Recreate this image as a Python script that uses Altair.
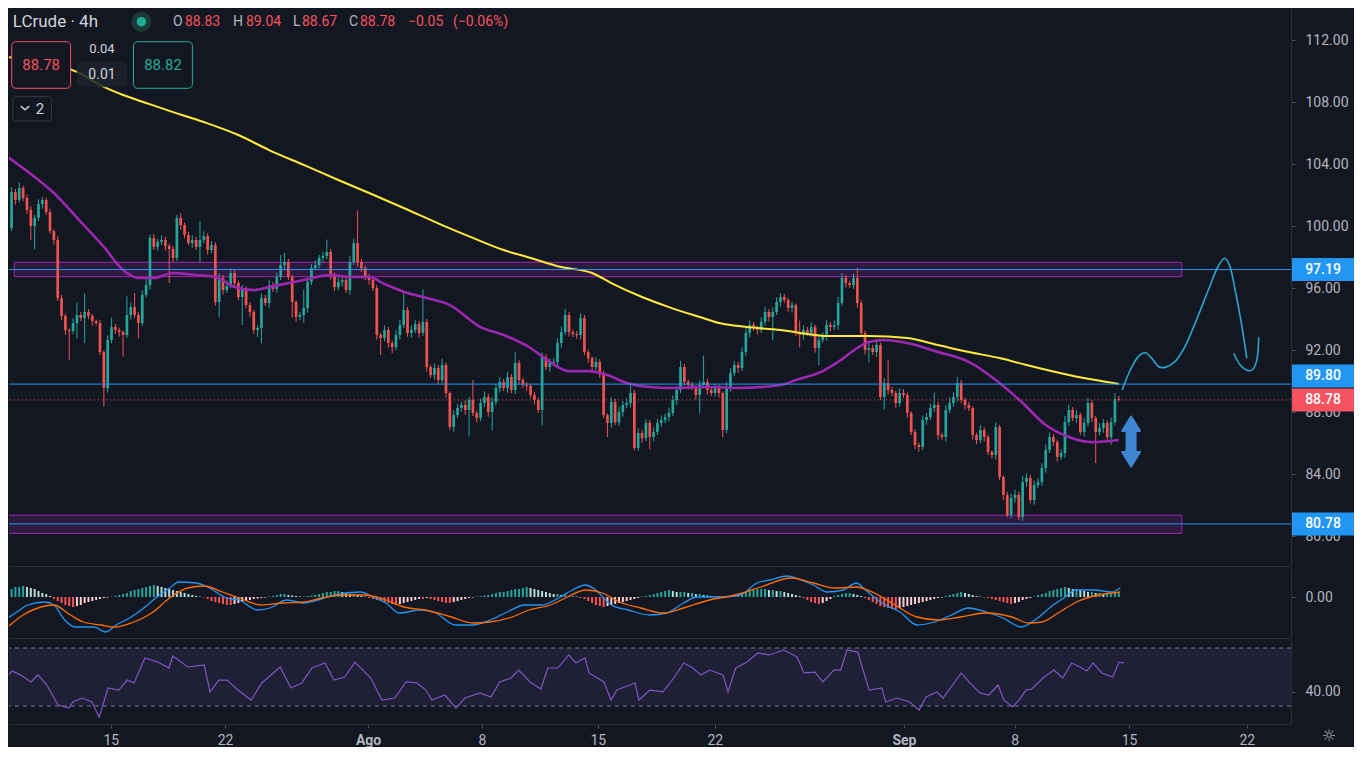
import altair as alt
import pandas as pd

BG = "#131722"
UP = "#26a69a"
DN = "#ef5350"
FONT = "Roboto"

# ---------------- candle data (4h bars, index = bar number) ----------------
OPEN0 = 100.71
CLOSE = [
    99.87, 102.19, 101.68, 102.45, 101.81, 101.03, 100.00, 100.52, 101.42, 101.68,
    100.90, 99.68, 99.10, 95.36, 94.19, 93.29, 93.23, 93.74, 94.26, 94.06,
    94.45, 94.19, 93.87, 93.74, 91.87, 89.55, 92.65, 93.48, 93.29, 93.16,
    92.97, 94.26, 94.77, 94.26, 93.74, 95.55, 96.19, 99.23, 98.65, 98.97,
    99.10, 98.71, 98.52, 97.94, 100.52, 100.06, 99.42, 98.90, 99.10, 98.65,
    99.10, 99.35, 98.45, 98.77, 95.10, 96.65, 95.87, 96.13, 96.97, 96.32,
    95.42, 96.00, 94.90, 94.45, 93.29, 93.42, 95.36, 95.03, 96.19, 95.94,
    96.71, 97.48, 97.68, 96.71, 95.10, 94.13, 94.26, 94.71, 96.39, 97.29,
    97.48, 97.94, 98.06, 98.32, 96.84, 96.06, 96.39, 96.52, 95.87, 97.68,
    98.90, 97.68, 97.29, 96.71, 96.52, 96.00, 92.97, 92.77, 93.29, 92.45,
    92.19, 92.97, 93.61, 94.58, 93.10, 93.29, 93.68, 93.10, 93.81, 90.90,
    90.39, 90.84, 90.06, 91.03, 89.23, 87.03, 87.81, 88.26, 88.45, 88.13,
    88.77, 87.94, 87.61, 88.58, 88.97, 88.00, 88.65, 89.55, 89.94, 89.55,
    90.26, 89.42, 91.16, 90.06, 89.74, 89.68, 89.10, 88.77, 88.13, 91.55,
    90.90, 91.16, 91.23, 92.45, 93.16, 94.26, 93.16, 93.03, 92.97, 94.06,
    91.87, 91.48, 90.90, 91.23, 90.52, 87.81, 87.29, 88.65, 87.35, 88.00,
    88.45, 88.58, 89.23, 85.68, 86.65, 86.32, 87.29, 86.39, 86.71, 87.29,
    87.48, 87.68, 87.94, 88.77, 89.42, 90.90, 89.94, 89.74, 89.61, 89.10,
    89.74, 89.94, 89.42, 89.23, 89.55, 89.23, 86.84, 89.61, 90.52, 91.03,
    90.84, 91.87, 93.10, 93.61, 93.42, 93.29, 93.81, 94.45, 94.13, 94.45,
    95.10, 95.42, 95.23, 94.71, 94.90, 93.10, 92.97, 93.29, 93.10, 93.48,
    92.13, 92.65, 92.90, 93.61, 93.48, 93.61, 95.03, 96.65, 96.32, 96.19,
    96.65, 95.03, 93.10, 92.00, 92.13, 91.87, 92.32, 88.97, 89.87, 89.42,
    89.23, 88.58, 89.23, 89.10, 87.94, 86.71, 85.87, 85.74, 87.48, 87.68,
    88.26, 88.45, 86.52, 86.39, 88.13, 88.58, 88.97, 89.87, 88.77, 88.45,
    88.26, 86.52, 86.19, 86.84, 86.39, 85.42, 85.23, 87.03, 83.81, 82.65,
    81.35, 82.45, 82.65, 81.23, 83.48, 83.74, 82.32, 83.29, 83.48, 84.39,
    85.55, 86.39, 86.06, 85.10, 85.35, 87.35, 88.13, 87.61, 87.81, 86.71,
    87.29, 88.58, 87.61, 86.71, 86.97, 87.29, 86.39, 87.35, 88.83, 88.78,
]
WICK_UP = [
    0.64, 0.3, 0.2, 0.35, 0.15, 0.2, 0.25, 0.2, 0.3, 0.2,
    0.15, 0.2, 0.1, 0.25, 0.2, 0.15, 0.1, 0.3, 0.8, 0.2,
    1.2, 0.2, 0.15, 0.1, 0.2, 0.1, 0.3, 0.6, 0.2, 0.15,
    0.1, 1.2, 0.3, 0.9, 0.2, 0.3, 0.4, 0.2, 0.25, 0.2,
    0.3, 0.2, 0.15, 0.2, 0.2, 0.3, 0.15, 0.2, 0.3, 0.2,
    1.2, 0.3, 0.2, 0.25, 0.2, 0.3, 0.2, 0.35, 0.3, 0.2,
    0.15, 0.2, 0.1, 0.2, 0.15, 0.2, 0.3, 0.2, 0.35, 0.2,
    0.3, 0.65, 0.6, 0.2, 0.15, 0.1, 0.2, 1.2, 0.3, 0.25,
    0.3, 0.2, 0.3, 0.8, 0.2, 0.15, 0.3, 0.25, 0.2, 0.4,
    0.3, 2.1, 0.2, 0.15, 0.2, 0.1, 0.2, 0.15, 0.3, 0.2,
    0.15, 0.3, 0.35, 1.1, 0.2, 0.3, 0.25, 0.2, 2.1, 0.2,
    0.15, 0.3, 0.2, 0.4, 0.15, 0.1, 0.3, 0.25, 0.2, 0.3,
    0.2, 1.3, 0.15, 0.3, 0.35, 0.2, 0.3, 0.25, 0.3, 0.2,
    0.35, 0.2, 0.7, 0.2, 0.15, 0.2, 0.1, 0.2, 0.15, 0.3,
    0.2, 0.3, 0.25, 0.3, 0.35, 0.4, 0.2, 0.15, 0.2, 0.3,
    0.2, 0.15, 0.1, 0.3, 0.2, 0.15, 0.1, 0.3, 0.2, 0.35,
    0.25, 0.3, 0.5, 0.2, 0.3, 0.2, 0.25, 0.2, 0.3, 0.25,
    0.3, 0.2, 0.35, 0.3, 0.25, 0.4, 0.2, 0.15, 0.2, 0.1,
    0.3, 1.7, 0.2, 0.15, 0.3, 0.2, 0.1, 0.35, 0.3, 0.25,
    0.2, 0.3, 0.35, 0.3, 0.2, 0.15, 0.3, 0.35, 0.2, 0.3,
    0.3, 0.25, 0.2, 0.15, 0.2, 0.1, 0.8, 0.3, 0.2, 0.3,
    0.15, 0.3, 0.25, 0.35, 0.2, 0.3, 0.4, 0.3, 0.2, 0.15,
    0.3, 0.65, 0.2, 0.15, 0.3, 0.2, 0.3, 0.15, 0.3, 1.5,
    0.2, 0.15, 0.3, 0.25, 0.15, 0.1, 0.2, 0.15, 0.3, 0.25,
    0.3, 0.8, 0.2, 0.15, 0.3, 0.35, 0.3, 0.4, 0.2, 0.15,
    0.2, 0.1, 0.15, 0.3, 0.2, 0.15, 0.1, 0.3, 0.15, 0.1,
    0.2, 0.3, 0.35, 0.2, 0.4, 0.3, 0.2, 0.3, 0.25, 0.3,
    0.35, 0.3, 0.2, 0.15, 0.25, 0.4, 0.35, 0.2, 0.3, 0.15,
    0.3, 0.35, 0.2, 0.15, 0.3, 0.25, 0.2, 0.3, 0.4, 0.21,
]
WICK_DN = [
    0.77, 0.2, 0.3, 0.15, 0.2, 0.25, 0.9, 1.5, 0.2, 0.3,
    0.2, 0.15, 0.3, 0.2, 0.25, 0.3, 1.9, 0.2, 1.0, 0.2,
    1.6, 0.2, 0.3, 0.15, 0.2, 1.2, 0.3, 0.2, 0.25, 0.3,
    1.4, 0.2, 0.3, 0.2, 1.0, 0.2, 0.15, 0.3, 0.2, 0.25,
    0.2, 0.3, 2.2, 0.25, 0.2, 0.3, 0.2, 0.15, 0.3, 0.2,
    1.0, 0.2, 0.3, 0.2, 0.25, 1.0, 0.3, 0.2, 0.15, 0.3,
    0.2, 1.8, 0.2, 0.3, 0.25, 0.45, 1.0, 0.2, 0.3, 0.2,
    0.25, 0.2, 0.3, 0.2, 1.0, 0.3, 0.2, 0.5, 0.3, 0.2,
    0.15, 0.2, 0.3, 0.2, 0.3, 0.25, 0.2, 0.3, 0.2, 0.3,
    0.2, 0.3, 0.25, 0.2, 0.3, 0.2, 0.3, 1.1, 0.2, 0.3,
    0.4, 0.2, 0.3, 0.2, 0.25, 0.3, 0.2, 0.3, 0.2, 0.3,
    0.2, 0.3, 0.25, 0.2, 0.3, 0.2, 0.3, 0.2, 0.25, 0.3,
    1.7, 0.2, 0.3, 0.2, 0.25, 0.3, 1.2, 0.2, 0.3, 0.2,
    0.3, 0.2, 0.25, 0.3, 0.2, 0.3, 0.2, 0.3, 0.2, 1.0,
    0.2, 0.3, 0.2, 0.25, 0.3, 0.2, 0.3, 0.2, 0.25, 0.3,
    0.2, 0.3, 0.25, 0.2, 0.3, 0.2, 0.9, 0.3, 0.2, 0.25,
    0.3, 0.2, 0.3, 0.15, 0.2, 0.3, 0.2, 0.8, 0.3, 0.2,
    0.25, 0.2, 0.3, 0.2, 0.3, 0.2, 0.25, 0.3, 0.2, 0.3,
    1.2, 0.2, 0.3, 0.2, 0.25, 0.3, 0.5, 0.2, 0.3, 0.2,
    0.3, 0.2, 0.25, 0.3, 0.2, 0.3, 0.2, 0.25, 0.3, 1.5,
    0.2, 0.3, 0.2, 0.25, 0.3, 0.2, 0.8, 0.3, 0.2, 0.25,
    0.3, 1.1, 0.2, 0.3, 0.25, 0.2, 0.3, 0.2, 0.3, 0.2,
    0.25, 0.3, 0.2, 0.3, 0.8, 0.2, 0.3, 0.2, 0.8, 0.3,
    0.2, 0.3, 0.25, 0.2, 0.3, 0.2, 0.25, 0.3, 0.2, 0.3,
    0.2, 0.25, 0.3, 0.2, 0.3, 0.2, 0.25, 0.3, 0.2, 0.3,
    0.2, 0.3, 0.25, 0.2, 0.3, 0.2, 0.25, 0.3, 0.2, 0.3,
    0.15, 0.2, 0.3, 0.2, 0.25, 0.3, 0.2, 0.3, 0.2, 0.25,
    0.3, 0.2, 0.25, 0.3, 0.2, 0.3, 0.25, 0.2, 0.3, 0.2,
    0.3, 0.2, 0.25, 2.0, 0.2, 0.3, 0.25, 0.5, 0.2, 0.11,
]

# moving averages (bar index, price)
MA50_IDX = [0, 7, 12, 19, 25, 30, 34, 38, 43, 49, 54, 59, 64, 68, 77, 84, 89, 94, 98, 104,
            109, 115, 123, 129, 136, 141, 146, 151, 156, 161, 167, 173, 182, 190, 201, 205,
            212, 216, 221, 224, 228, 234, 242, 250, 257, 264, 270, 276, 282, 289]
MA50_VAL = [104.45, 103.16, 102.13, 100.26, 98.65, 97.16, 96.65, 96.65, 96.97, 96.84,
            96.71, 96.06, 95.87, 96.06, 96.52, 96.84, 96.71, 96.71, 96.26, 95.68,
            95.36, 94.90, 93.48, 92.97, 92.13, 91.23, 90.64, 90.64, 90.39, 89.87,
            89.61, 89.55, 89.61, 89.55, 89.74, 90.06, 90.64, 91.23, 92.13, 92.52,
            92.65, 92.45, 91.87, 91.23, 90.06, 88.58, 87.16, 86.39, 86.06, 86.19]
MA200_IDX = [0, 18, 25, 30, 36, 43, 51, 60, 68, 77, 86, 94, 103, 113, 121, 129, 136, 144,
             152, 157, 165, 172, 180, 185, 190, 201, 214, 224, 234, 242, 250, 258, 265,
             276, 283, 289]
MA200_VAL = [110.90, 109.94, 108.97, 108.45, 107.94, 107.35, 106.71, 105.87, 104.90,
             103.94, 102.97, 102.13, 101.16, 100.06, 99.23, 98.45, 97.94, 97.35, 96.97,
             96.32, 95.42, 94.77, 94.13, 93.74, 93.55, 93.29, 92.90, 92.90, 92.77, 92.32,
             91.87, 91.48, 91.03, 90.39, 90.06, 89.81]

# MACD panel
MACD_HIST = [
    0.6, 0.8, 1.0, 1.0, 1.1, 1.0, 0.9, 0.8, 0.6, 0.4,
    0.3, 0.1,
    -0.2, -0.4, -0.6, -0.8, -0.9, -1.0, -0.9, -0.8, -0.6, -0.5, -0.4, -0.3, -0.2, -0.1,
    -0.1, 0.05, 0.1,
    0.2, 0.3, 0.4, 0.6, 0.7, 0.8, 0.9, 1.0, 1.1, 1.2,
    1.1, 1.0, 0.9, 0.8, 0.7, 0.6, 0.5, 0.4, 0.3,
    0.2, 0.1, 0.05, -0.05,
    -0.2, -0.4, -0.5, -0.6, -0.7, -0.8, -0.8, -0.7, -0.6, -0.5, -0.4, -0.3, -0.2,
    -0.15, -0.1, -0.05, 0.05, 0.1,
    0.2, 0.3, 0.3, 0.2, 0.15,
    0.1, 0.05, 0.05, 0.1, 0.15, 0.2, 0.3, 0.4,
    0.5, 0.5, 0.6, 0.6, 0.5, 0.4, 0.3, 0.3, 0.2, 0.1,
    0.05, -0.1, -0.2, -0.3, -0.4,
    -0.5, -0.6, -0.7, -0.8, -0.7, -0.6, -0.5, -0.4,
    -0.3, -0.2, -0.2, -0.1, -0.2, -0.3, -0.4, -0.5,
    -0.6, -0.6, -0.5, -0.4, -0.3, -0.2, -0.1,
    -0.05, 0.05, 0.1, 0.15, 0.2, 0.3, 0.4, 0.5,
    0.5, 0.6, 0.7, 0.8, 0.8, 0.9, 1.0, 0.9, 0.8, 0.7, 0.6, 0.5, 0.4,
    0.3, 0.3, 0.2, 0.2, 0.1, 0.1, 0.05, -0.1,
    -0.2, -0.4, -0.6, -0.8, -0.9, -1.0, -0.9, -0.8, -0.7, -0.6, -0.5, -0.4, -0.3, -0.2, -0.1,
    0.05, 0.1, 0.2, 0.3, 0.4, 0.5, 0.6, 0.7, 0.6, 0.5, 0.5,
    0.5, 0.4, 0.4, 0.3, 0.3, 0.2, 0.2, 0.1, 0.1, 0.05, 0.05, 0.05,
    0.1, 0.2, 0.3, 0.4, 0.5, 0.6, 0.7, 0.8, 0.8,
    0.8, 0.7, 0.7, 0.6, 0.6, 0.5, 0.4, 0.3, 0.2, 0.1,
    -0.1, -0.3, -0.5, -0.6, -0.7, -0.6, -0.4, -0.2,
    0.1, 0.2, 0.3, 0.4, 0.4, 0.3, 0.2, 0.1,
    -0.1, -0.3, -0.5, -0.7, -0.9,
    -1.0, -1.1, -1.2, -1.2, -1.1, -1.0, -0.9, -0.8, -0.7, -0.6, -0.5, -0.4, -0.3, -0.2,
    -0.1, -0.05,
    0.1, 0.2, 0.3, 0.4, 0.5, 0.4, 0.3, 0.2,
    0.1, 0.05, -0.05, -0.1,
    -0.2, -0.3, -0.4, -0.5, -0.6, -0.7, -0.6, -0.5, -0.3, -0.2,
    -0.1, 0.05,
    0.2, 0.3, 0.4, 0.6, 0.7, 0.8, 0.9, 1.0,
    0.9, 0.8, 0.8, 0.7, 0.6, 0.5, 0.5, 0.4, 0.4, 0.3, 0.3,
    0.3, 0.4, 0.4,
]
MACD_IDX = [0, 2.4, 5.2, 9.6, 12, 14.8, 17.6, 22.5, 25.4, 28.2, 32.1, 35.4, 38.8, 42.1, 44.5,
            49.1, 52.5, 56.9, 60.2, 64.9, 68.2, 72.6, 77, 80.6, 85, 91.7, 95, 98.4, 101.8,
            107.4, 110.8, 116.5, 120.9, 125.5, 129.9, 134.5, 138.9, 143.3, 146.9, 150.3,
            152.3, 157, 161.4, 167, 171.4, 175.8, 179.2, 185.9, 190.5, 194.9, 198.3, 202.9,
            206.3, 209.6, 213, 217.4, 220.7, 223.1, 227.4, 232.1, 236.5, 241.1, 245.5,
            249.9, 254.5, 258.9, 263.6, 267.9, 271.3, 274.7, 278, 282.7, 287, 289.4]
MACD_VAL = [-2.1, -1.5, -0.8, -0.5, -0.8, -2.3, -3.0, -3.0, -3.5, -2.8, -2.0, -1.1, 0, 0.9,
            1.5, 1.4, 0.9, -0.1, -0.3, -1.3, -1.1, -0.3, -0.6, -0.3, 0.2, 0.5, 0, -0.6,
            -1.6, -1.3, -1.5, -2.8, -2.8, -2.3, -1.5, -0.8, -0.8, -0.1, 0.7, 1.2, 0.9,
            -0.8, -1.3, -1.8, -1.6, -0.6, 0, 0, 0.2, 1.4, 1.7, 2.1, 1.7, 1.2, 0.5, 0.7,
            1.4, 0.7, -0.6, -1.5, -2.8, -2.5, -1.8, -1.1, -1.5, -2.1, -3.0, -2.1, -1.0,
            -0.1, 0.7, 0.7, 0.5, 0.9]
SIG_IDX = [0, 4, 8.6, 12, 16.3, 19.7, 24.3, 27.7, 32.1, 37.8, 42.1, 46.8, 51.2, 55.8, 60.2,
           65.9, 71.6, 77, 81.6, 87.3, 92.7, 98.4, 103.1, 108.5, 115.4, 120.9, 125.5, 131.2,
           135.6, 141.2, 145.6, 150.3, 154.7, 159.1, 164.7, 170.4, 175.8, 182.5, 189.2,
           195.9, 203.9, 209.6, 215, 220.7, 225.4, 230.8, 236.5, 242.2, 247.8, 254.5,
           261.2, 265.6, 269, 273.6, 278, 283.7, 289.4]
SIG_VAL = [-3.0, -1.8, -1.0, -0.8, -1.8, -2.5, -2.8, -3.0, -2.6, -1.5, -0.1, 0.9, 1.1, 0.5,
           -0.1, -0.8, -0.6, -0.5, -0.1, 0.2, 0.2, -0.3, -1.0, -1.3, -2.0, -2.6, -2.5, -2.0,
           -1.3, -0.8, 0, 0.7, 0.4, -0.5, -1.1, -1.6, -1.1, -0.3, 0.2, 1.0, 1.9, 1.4, 0.9,
           1.0, 0.4, -0.8, -2.0, -2.3, -2.0, -1.6, -2.0, -2.6, -2.5, -1.5, -0.5, 0.2, 0.5]

# RSI panel
RSI_IDX = [0, 2.4, 4.7, 7.3, 9.1, 11.4, 14.3, 17.1, 18.1, 20.5,
           23.0, 24.9, 27.2, 30.0, 32.1, 33.9, 36.7, 40.1, 42.9, 43.9,
           47.8, 52.0, 53.5, 55.8, 57.9, 60.7, 64.1, 66.9, 71.6, 74.4,
           77.2, 79.8, 83.2, 85.5, 88.3, 90.9, 95.0, 97.9, 101.2, 104.1,
           106.9, 109.2, 110.8, 114.1, 117.0, 119.3, 123.2, 126.0, 128.3, 131.2,
           133.2, 136.1, 138.9, 140.7, 143.3, 146.1, 147.9, 150.3, 151.3, 155.2,
           157.0, 158.5, 163.2, 164.2, 167.0, 170.4, 173.2, 175.8, 178.1, 180.2,
           182.5, 185.9, 187.2, 189.2, 192.1, 194.9, 197.8, 201.6, 205.0, 206.8,
           209.6, 211.7, 214.5, 216.3, 217.9, 220.7, 223.6, 226.9, 227.9, 230.8,
           234.1, 236.5, 238.3, 241.1, 242.7, 247.4, 249.4, 252.2, 254.5, 256.9,
           258.4, 260.7, 262.3, 264.1, 265.6, 268.5, 271.3, 273.6, 275.9, 278.0,
           279.8, 281.4, 283.7, 286.5, 288.1, 289.4]
RSI_VAL = [46.6, 54.1, 51.4, 46.6, 51.4, 44.5, 30.7, 28.6, 32.8, 35.5,
           32.8, 22.4, 42.4, 41.0, 47.9, 45.9, 63.1, 60.3, 56.2, 64.5,
           56.9, 58.3, 39.7, 47.9, 47.9, 41.0, 34.1, 45.9, 56.9, 42.4,
           45.9, 56.2, 59.7, 47.9, 50.0, 60.3, 49.3, 34.1, 35.5, 46.6,
           45.9, 41.0, 34.1, 37.6, 28.6, 35.5, 39.0, 36.2, 46.6, 49.3,
           54.8, 46.6, 41.7, 56.2, 56.2, 65.2, 59.7, 63.1, 52.8, 46.6,
           34.1, 41.0, 45.9, 34.1, 41.0, 39.7, 49.3, 59.7, 56.2, 51.4,
           54.8, 51.4, 39.7, 56.2, 60.3, 66.6, 65.2, 68.6, 63.8, 52.8,
           53.4, 46.6, 54.8, 54.8, 68.6, 67.2, 41.0, 42.4, 32.8, 35.5,
           32.8, 27.2, 36.2, 39.7, 35.5, 52.8, 46.6, 39.0, 37.6, 44.5,
           34.1, 29.3, 34.1, 41.0, 41.7, 49.3, 54.8, 49.3, 59.7, 56.9,
           54.1, 59.7, 52.8, 50.0, 60.3, 59.7]

# drawings
LEVELS = [97.19, 89.80, 80.78]
LAST_PRICE = 88.78
ZONE_X1 = [1.7, -0.2]
ZONE_X2 = [305.4, 305.4]
ZONE_LO = [96.73, 80.17]
ZONE_HI = [97.66, 81.35]
PROJ_IDX = [289.9, 292.0, 294.2, 295.9, 297.6, 299.4, 301.0, 303.6, 306.2, 309.2, 312.3,
            314.8, 316.5, 317.8, 319.1, 320.9, 322.3,
            318.9, 320.6, 322.6, 323.9, 324.9, 325.4]
PROJ_VAL = [89.42, 90.71, 91.61, 91.82, 91.46, 90.92, 90.88, 91.25, 92.21, 93.94, 95.87,
            97.37, 97.92, 97.48, 96.08, 93.72, 91.46,
            91.79, 91.03, 90.67, 90.76, 91.35, 92.82]
PROJ_STROKE = [0, 0, 0, 0, 0, 0, 0, 0, 0, 0, 0, 0, 0, 0, 0, 0, 0, 1, 1, 1, 1, 1, 1]
ARROW_IDX = [292.2]
ARROW_PRICE = [86.10]

# axis labels
PRICE_TICKS = [80, 84, 88, 92, 96, 100, 104, 108, 112]
TICK_IDX = [27.9, 57.4, 94.3, 123.7, 153.6, 183.8, 232.6, 261.2, 290.7, 321.1]
TICK_TXT = ["15", "22", "Ago", "8", "15", "22", "Sep", "8", "15", "22"]

# ---------------- build tables ----------------
n = min(len(CLOSE), len(WICK_UP), len(WICK_DN))
opens = [OPEN0] + CLOSE[:-1]
rows = []
for i in range(n):
    o, c = opens[i], CLOSE[i]
    rows.append(dict(i=i, o=o, c=c, h=max(o, c) + WICK_UP[i], l=min(o, c) - WICK_DN[i],
                     col=UP if c >= o else DN))
cdf = pd.DataFrame(rows)

hrows = []
prev = 0.0
for i, h in enumerate(MACD_HIST):
    if h >= 0:
        col = "#26a69a" if h >= prev else "#b2dfdb"
    else:
        col = "#ff5252" if h <= prev else "#ffcdd2"
    hrows.append(dict(i=i, h=h, col=col))
    prev = h
hdf = pd.DataFrame(hrows)
rsi_df = pd.DataFrame({"i": RSI_IDX, "v": RSI_VAL})
zone_df = pd.DataFrame({"x1": ZONE_X1, "x2": ZONE_X2, "lo": ZONE_LO, "hi": ZONE_HI})
proj_df = pd.DataFrame({"i": PROJ_IDX, "v": PROJ_VAL, "g": PROJ_STROKE,
                        "k": list(range(len(PROJ_IDX)))})
ONE = pd.DataFrame({"k": [0]})

# ---------------- scales / axes ----------------
W = 1282
XS = alt.Scale(domain=[1.63, 332.5], nice=False, zero=False)
YS = alt.Scale(domain=[78.065, 114.065], nice=False, zero=False)
MS = alt.Scale(domain=[-4.1, 2.9], nice=False, zero=False)
RS = alt.Scale(domain=[17.59, 75.52], nice=False, zero=False)

SEP = "#2a2e39"
LAB = "#b2b5be"
X_HID = alt.Axis(labels=False, ticks=False, domain=True, domainColor=SEP, grid=False, title=None)

expr = "''"
for v, t in reversed(list(zip(TICK_IDX, TICK_TXT))):
    expr = f"abs(datum.value-{v})<0.01 ? '{t}' : ({expr})"
month_test = " || ".join(f"abs(datum.value-{v})<0.01" for v, t in zip(TICK_IDX, TICK_TXT)
                         if not t.isdigit())
X_TIME = alt.Axis(values=TICK_IDX, labelExpr=expr, labelColor=LAB, labelFontSize=14,
                  labelFont=FONT, tickColor="#50535e", tickSize=4, labelPadding=5,
                  domainColor=SEP, grid=False, title=None, labelOverlap=False,
                  labelFlush=False,
                  labelFontWeight={"condition": {"test": month_test, "value": "bold"},
                                   "value": "normal"})


def yaxis(values, fmt=".2f"):
    return alt.Axis(orient="right", values=values, format=fmt, labelColor=LAB,
                    labelFontSize=14, labelFont=FONT, tickColor="#50535e", tickSize=4,
                    labelPadding=10, domainColor=SEP, grid=False, title=None)


Y_PRICE = yaxis(PRICE_TICKS)
Y_MACD = yaxis([0])
Y_RSI = yaxis([40])


def X(f, ax=X_HID):
    return alt.X(f, type="quantitative", scale=XS, axis=ax)


def YP(f):
    return alt.Y(f, type="quantitative", scale=YS, axis=Y_PRICE)


def txt(s, x, y, color, size, weight="normal", align="left", font=FONT):
    return alt.Chart(ONE).mark_text(text=s, x=x, y=y, color=color, fontSize=size, font=font,
                                    fontWeight=weight, align=align, baseline="middle"
                                    ).encode(opacity=alt.value(1))


def box(x1, x2, y1, y2, fill, stroke=None, fop=1.0, r=4):
    kw = dict(x=x1, x2=x2, y=y1, y2=y2, fill=fill, fillOpacity=fop, cornerRadius=r)
    if stroke:
        kw.update(stroke=stroke, strokeWidth=1)
    return alt.Chart(ONE).mark_rect(**kw).encode(opacity=alt.value(1))


def line(idx, vals, color, width, yscale, yaxis_, interp="monotone"):
    d = pd.DataFrame({"i": idx, "v": vals})
    return alt.Chart(d).mark_line(clip=True, color=color, strokeWidth=width,
                                  interpolate=interp).encode(
        x=X("i"), y=alt.Y("v:Q", scale=yscale, axis=yaxis_))


# ---------------- main price panel ----------------
zones = alt.Chart(zone_df).mark_rect(clip=True, fill="#9c27b0", fillOpacity=0.2,
                                     stroke="#9c27b0", strokeWidth=1).encode(
    x=X("x1"), x2="x2", y=YP("lo"), y2="hi")
wicks = alt.Chart(cdf).mark_rule(strokeWidth=1, clip=True).encode(
    x=X("i"), y=YP("l"), y2="h", color=alt.Color("col:N", scale=None))
bodies = alt.Chart(cdf).mark_bar(size=2.7, clip=True).encode(
    x=X("i"), y=YP("o"), y2="c", color=alt.Color("col:N", scale=None))
ma50 = line(MA50_IDX, MA50_VAL, "#9c27b0", 2.6, YS, Y_PRICE)
ma200 = line(MA200_IDX, MA200_VAL, "#ffeb3b", 2.0, YS, Y_PRICE)
levels = alt.Chart(pd.DataFrame({"v": LEVELS})).mark_rule(color="#2196f3", strokeWidth=1).encode(
    y=YP("v"))
last = alt.Chart(pd.DataFrame({"v": [LAST_PRICE]})).mark_rule(
    color="#f7525f", strokeWidth=1, strokeDash=[1, 3]).encode(y=YP("v"))
proj = alt.Chart(proj_df).mark_line(color="#2aa6c9", strokeWidth=1.6,
                                    interpolate="catmull-rom").encode(
    x=X("i"), y=YP("v"), detail="g:N", order="k:Q")
ARROW_PATH = ("M0,-1 L0.36,-0.42 L0.18,-0.42 L0.18,0.42 L0.36,0.42 L0,1 "
              "L-0.36,0.42 L-0.18,0.42 L-0.18,-0.42 L-0.36,-0.42 Z")
arrow = alt.Chart(pd.DataFrame({"i": ARROW_IDX, "v": ARROW_PRICE})).mark_point(
    shape=ARROW_PATH, size=2500, filled=True, color="#3f86d3", opacity=1,
    stroke="#3f86d3", strokeWidth=2, strokeJoin="round").encode(x=X("i"), y=YP("v"))

BOX_PATH = "M-1,-0.371 L1,-0.371 L1,0.371 L-1,0.371 Z"
label_layers = []
for val, colr, dy in [(97.19, "#2196f3", 0), (89.80, "#2196f3", -8),
                      (LAST_PRICE, "#f7525f", 0), (80.78, "#2196f3", 0)]:
    d = pd.DataFrame({"v": [val], "t": [f"{val:.2f}"]})
    label_layers.append(alt.Chart(d).mark_point(
        shape=BOX_PATH, size=3844, filled=True, color=colr, opacity=1, x=1314, yOffset=dy,
        clip=False).encode(y=YP("v")))
    label_layers.append(alt.Chart(d).mark_text(
        x=1314, yOffset=dy, color="#ffffff", fontSize=14, font=FONT, fontWeight=500,
        align="center", baseline="middle").encode(y=YP("v"), text="t:N"))

RED = "#f7525f"
GRN = "#22ab94"
TXT = "#d1d4dc"
header = [
    txt("LCrude · 4h", 3.8, 14, TXT, 17),
    alt.Chart(ONE).mark_point(x=132.4, y=13.7, shape="circle", size=400, filled=True,
                              color="#1b3b3a", opacity=1).encode(opacity=alt.value(1)),
    alt.Chart(ONE).mark_point(x=132.4, y=13.7, shape="circle", size=90, filled=True,
                              color=GRN, opacity=1).encode(opacity=alt.value(1)),
    txt("O", 164, 14, LAB, 14), txt("88.83", 176, 14, RED, 14),
    txt("H", 224, 14, LAB, 14), txt("89.04", 237, 14, RED, 14),
    txt("L", 284, 14, LAB, 14), txt("88.67", 293, 14, RED, 14),
    txt("C", 340, 14, LAB, 14), txt("88.78", 351, 14, RED, 14),
    txt("−0.05", 399, 14, RED, 14), txt("(−0.06%)", 444, 14, RED, 14),
    box(2.7, 61.6, 33.7, 80.3, BG, RED),
    txt("88.78", 32.2, 57, RED, 15, align="center"),
    txt("0.04", 93, 41.3, TXT, 13, align="center"),
    box(67.7, 117.7, 53.7, 79.3, "#1e222d", None, 0.85),
    txt("0.01", 93, 66.5, TXT, 14, align="center"),
    box(124.5, 183.4, 33.7, 80.3, BG, GRN),
    txt("88.82", 154, 57, GRN, 15, align="center"),
    box(3.8, 42.4, 88.7, 113, BG, "#363a45", 1, 3),
    alt.Chart(ONE).mark_point(x=16, y=100, shape="M-1,-0.45 L0,0.45 L1,-0.45", size=70,
                              filled=False, color=TXT, strokeWidth=1.4, opacity=1
                              ).encode(opacity=alt.value(1)),
    txt("2", 31, 100.5, TXT, 15, align="center"),
]

main = alt.layer(zones, wicks, bodies, ma50, ma200, levels, last, proj, arrow, *label_layers,
                 *header).properties(width=W, height=558)

# ---------------- MACD panel ----------------
hist = alt.Chart(hdf).mark_bar(size=2, clip=True).encode(
    x=X("i"), y=alt.Y("h:Q", scale=MS, axis=Y_MACD), color=alt.Color("col:N", scale=None))
macd_line = line(MACD_IDX, MACD_VAL, "#2196f3", 1.3, MS, Y_MACD)
sig_line = line(SIG_IDX, SIG_VAL, "#ff6d00", 1.3, MS, Y_MACD)
macd = alt.layer(hist, macd_line, sig_line).properties(width=W, height=70)

# ---------------- RSI panel ----------------
band = alt.Chart(ONE).mark_rect(color="#7e57c2", opacity=0.12).encode(
    y=alt.datum(70, scale=RS, axis=Y_RSI), y2=alt.datum(30))
dashes = alt.Chart(pd.DataFrame({"v": [70, 30]})).mark_rule(
    color="#787b86", strokeDash=[4, 4], strokeWidth=1).encode(
    y=alt.Y("v:Q", scale=RS, axis=Y_RSI))
rsi_line = alt.Chart(rsi_df).mark_line(color="#7e57c2", strokeWidth=1.2, clip=True).encode(
    x=X("i", X_TIME), y=alt.Y("v:Q", scale=RS, axis=Y_RSI))
gear = txt("☼", 1320, 96, LAB, 16, align="center", font="DejaVu Sans")
rsi = alt.layer(band, dashes, rsi_line, gear).properties(width=W, height=84)

chart = alt.vconcat(main, macd, rsi, spacing=2).properties(
    background=BG, padding=0).configure_view(stroke=None)

chart.save("out.html", embed_options={"renderer": "svg", "actions": False})
